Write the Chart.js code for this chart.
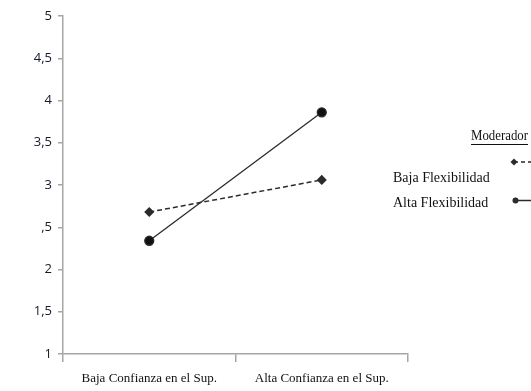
<!DOCTYPE html>
<html>
<head>
<meta charset="utf-8">
<script src="https://cdn.jsdelivr.net/npm/chart.js@4"></script>
<style>
  html, body { margin: 0; padding: 0; background: #fff; }
  #wrap { position: relative; width: 531px; height: 391px; }
</style>
</head>
<body>
<div id="wrap"><canvas id="chart" width="531" height="391"></canvas></div>
<script>
// Categories and series
const categories = ['Baja Confianza en el Sup.', 'Alta Confianza en el Sup.'];
const bajaFlex = [2.68, 3.06];
const altaFlex = [2.34, 3.86];
const yTickValues = [1, 1.5, 2, 2.5, 3, 3.5, 4, 4.5, 5];
const yTickLabels = ['1', '1,5', '2', ',5', '3', '3,5', '4', '4,5', '5'];
const legendTitle = 'Moderador';
const seriesNames = ['Baja Flexibilidad', 'Alta Flexibilidad'];

const axisColor = '#a6a6a6';
const lineColor = '#2b2b2b';
const serif = '"Liberation Serif", "Times New Roman", serif';

// Draws the legend box on the right side like the original figure
const sideLegend = {
    id: 'sideLegend',
    afterDraw(chart) {
        const ctx = chart.ctx;
        ctx.save();
        ctx.fillStyle = '#111';
        ctx.textBaseline = 'middle';
        ctx.textAlign = 'left';
        ctx.font = '14px ' + serif;
        ctx.fillText(legendTitle, 471, 136.5, 57);
        ctx.strokeStyle = '#111';
        ctx.lineWidth = 1;
        ctx.beginPath();
        ctx.moveTo(471, 144.5);
        ctx.lineTo(528, 144.5);
        ctx.stroke();

        // labels are condensed in the original, squeeze with maxWidth
        ctx.fillText(seriesNames[0], 393, 178, 97);
        ctx.fillText(seriesNames[1], 393, 203.5, 97);

        // dashed line with diamond
        ctx.strokeStyle = lineColor;
        ctx.lineWidth = 1.5;
        ctx.setLineDash([4, 3]);
        ctx.beginPath();
        ctx.moveTo(514, 162);
        ctx.lineTo(531, 162);
        ctx.stroke();
        ctx.setLineDash([]);
        ctx.fillStyle = lineColor;
        ctx.beginPath();
        ctx.moveTo(514, 158.5);
        ctx.lineTo(517.5, 162);
        ctx.lineTo(514, 165.5);
        ctx.lineTo(510.5, 162);
        ctx.closePath();
        ctx.fill();

        // solid line with circle
        ctx.beginPath();
        ctx.moveTo(516, 200.5);
        ctx.lineTo(531, 200.5);
        ctx.stroke();
        ctx.beginPath();
        ctx.arc(515.5, 200.5, 3, 0, Math.PI * 2);
        ctx.fill();
        ctx.restore();
    }
};

new Chart(document.getElementById('chart'), {
    type: 'line',
    data: {
        labels: categories,
        datasets: [
            {
                label: seriesNames[0],
                data: bajaFlex,
                borderColor: lineColor,
                backgroundColor: lineColor,
                borderWidth: 1.5,
                borderDash: [5, 3],
                pointStyle: 'rectRot',
                pointRadius: 4,
                tension: 0,
            },
            {
                label: seriesNames[1],
                data: altaFlex,
                borderColor: lineColor,
                backgroundColor: '#111',
                borderWidth: 1.3,
                pointStyle: 'circle',
                pointRadius: 4.5,
                tension: 0,
            },
        ],
    },
    options: {
        responsive: false,
        animation: false,
        layout: { padding: { top: 16, right: 123, left: 0, bottom: 0 } },
        plugins: { legend: { display: false }, tooltip: { enabled: false } },
        scales: {
            x: {
                type: 'category',
                offset: true,
                grid: {
                    offset: true,
                    drawOnChartArea: false,
                    color: axisColor,
                    lineWidth: 1.5,
                    tickLength: 8,
                },
                border: { color: axisColor, width: 1.5 },
                ticks: {
                    color: '#111',
                    padding: 9,
                    font: { family: serif, size: 13 },
                },
                afterFit(scale) { scale.height = 37; },
            },
            y: {
                min: 1,
                max: 5,
                afterBuildTicks(scale) {
                    scale.ticks = yTickValues.map((v) => ({ value: v }));
                },
                grid: {
                    drawOnChartArea: false,
                    color: axisColor,
                    lineWidth: 1.5,
                    tickLength: 5,
                },
                border: { color: axisColor, width: 1.5 },
                ticks: {
                    color: '#141a2e',
                    padding: 6,
                    font: { family: '"Open Sans", "DejaVu Sans", sans-serif', size: 13 },
                    callback: (v) => yTickLabels[yTickValues.indexOf(v)],
                },
                afterFit(scale) { scale.width = 63; },
            },
        },
    },
    plugins: [sideLegend],
});
</script>
</body>
</html>
